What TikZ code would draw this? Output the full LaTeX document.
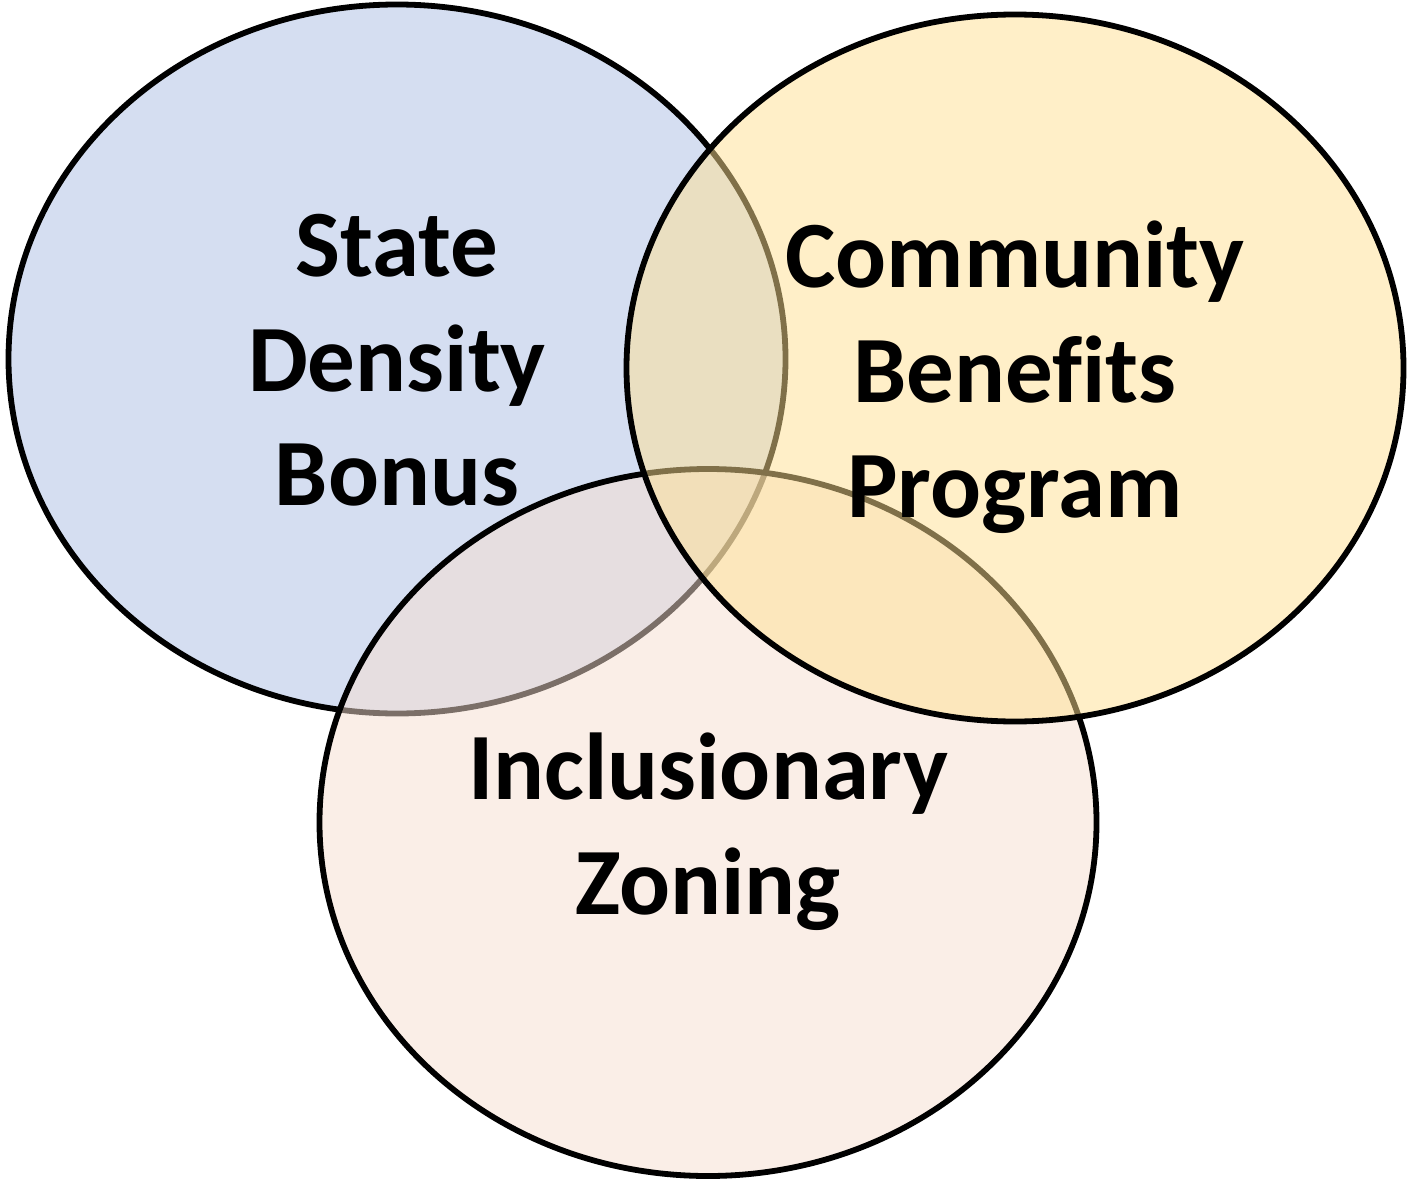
\documentclass[tikz,border=0pt]{standalone}
\usepackage{fontspec}
\setmainfont{Carlito}[Ligatures={NoCommon}]
\definecolor{blueset}{RGB}{173,191,229}
\definecolor{yellowset}{RGB}{255,225,147}
\definecolor{pinkset}{RGB}{247,223,209}
\tikzset{
  setshape/.style={draw=black, line width=2.9pt, fill opacity=0.5},
  setlabel/.style={anchor=base, inner sep=0pt, font=\bfseries\fontsize{47.5}{57}\selectfont, text=black}
}
\begin{document}
\begin{tikzpicture}[x=0.5pt,y=-0.5pt]
\useasboundingbox (0,0) rectangle (1412,1182);
\fill[white] (0,0) rectangle (1412,1182);
\path[setshape, fill=blueset] (397,359) ellipse [x radius=388.5, y radius=354.5];
\path[setshape, fill=pinkset] (708,822.5) ellipse [x radius=388.5, y radius=353.5];
\path[setshape, fill=yellowset] (1015,368) ellipse [x radius=388.5, y radius=353.5];
\node[setlabel] (s1) at (397,276) {State};
\node[setlabel] (s2) at (397,391) {Density};
\node[setlabel] (s3) at (397,505) {Bonus};
\node[setlabel] (c1) at (1015,287) {Community};
\node[setlabel] (c2) at (1015,402) {Benef\kern0pt its};
\node[setlabel] (c3) at (1015,517) {Program};
\node[setlabel] (i1) at (708,799) {Inclusionary};
\node[setlabel] (i2) at (708,914) {Zoning};
\end{tikzpicture}
\end{document}
